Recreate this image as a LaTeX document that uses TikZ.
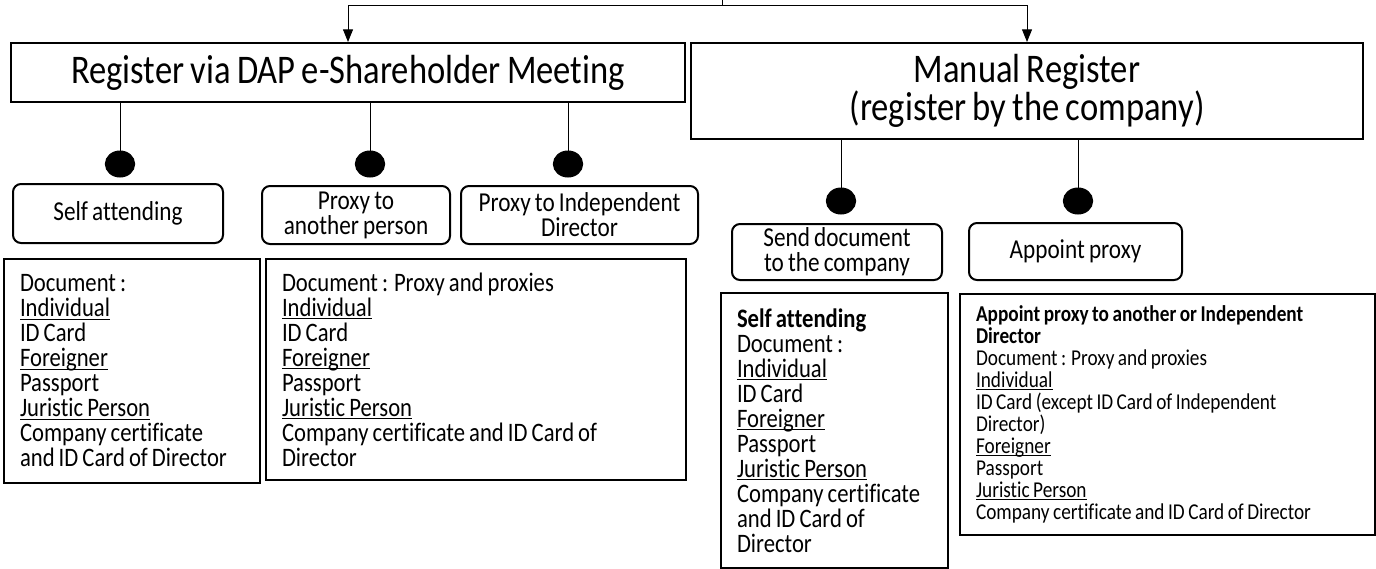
\documentclass[tikz,border=0pt]{standalone}
\usepackage{fontspec}
\setmainfont{Carlito}[FakeStretch=0.85,WordSpace=0.8,Ligatures={NoCommon}]
\usetikzlibrary{positioning,calc,shapes.geometric,arrows.meta}
\newcommand\boxfont[2]{\fontsize{#1}{#2}\selectfont\lineskiplimit=-20pt\relax}
\newcommand\ulword[1]{\underline{\smash{#1}}}

\begin{document}
\begin{tikzpicture}[
x=0.75pt,y=-0.75pt,
line width=0.75pt,
headbox/.style={draw,line width=1.5pt,align=center,inner sep=2pt,font=\boxfont{30.5}{28.5}},
optbox/.style={draw,line width=1.5pt,rounded corners=6pt,align=center,inner ysep=2pt,font=\boxfont{20.5}{18.75}},
docbox/.style={draw,line width=1.5pt,anchor=north west,align=flush left,inner xsep=12pt,inner ysep=0pt,font=\boxfont{20}{18.75}},
dot/.style={draw,fill,ellipse,minimum width=22pt,minimum height=19.5pt,inner sep=0pt},
tip/.style={-{Triangle[length=9.5pt,width=7.5pt]}},
]

\useasboundingbox (0,0) rectangle (1376,568);

\node[headbox,minimum width=505.5pt,minimum height=44.25pt] (reg) at (348,72.5) {Register via DAP e-Shareholder Meeting};
\node[headbox,minimum width=504pt,minimum height=72pt] (man) at (1027,91) {Manual Register\\(register by the company)};

\coordinate (top) at (722,0);
\coordinate (split) at (722,5);
\draw (top) -- (split);
\draw[tip] (split) -| (reg.north);
\draw[tip] (split) -| (man.north);

\node[dot] (d1) at (120,164) {};
\node[dot] (d2) at (370,164) {};
\node[dot] (d3) at (568,164) {};
\node[dot] (d4) at (841,201) {};
\node[dot] (d5) at (1078,201) {};
\foreach \d in {d1,d2,d3} \draw (\d.north |- reg.south) -- (\d.north);
\foreach \d in {d4,d5} \draw (\d.north |- man.south) -- (\d.north);

\node[optbox,minimum width=157.5pt,minimum height=44.25pt] (self) at (118,213.5) {Self attending};
\node[optbox,minimum width=141pt,minimum height=43.5pt] (pxa) at (356,215) {Proxy to\\another person};
\node[optbox,minimum width=177.75pt,minimum height=43.5pt] (pxi) at (579.5,215) {Proxy to Independent\\Director};
\node[optbox,minimum width=157.5pt,minimum height=42pt] (send) at (837,252) {Send document\\to the company};
\node[optbox,minimum width=159.75pt,minimum height=42.75pt] (appoint) at (1075.5,251.5) {Appoint proxy};

\node[docbox,text width=168pt,minimum height=168pt] (doc1) at (3,258)
{Document :\\\ulword{Individual}\\ID Card\\\ulword{Foreigner}\\Passport\\\ulword{Juristic Person}\\Company certificate\\and ID Card of Director};
\node[docbox,text width=291pt,minimum height=165.75pt] (doc2) at (265,258)
{Document : Proxy and proxies\\\ulword{Individual}\\ID Card\\\ulword{Foreigner}\\Passport\\\ulword{Juristic Person}\\Company certificate and ID Card of\\Director};
\node[docbox,text width=146.25pt,minimum height=206.25pt] (doc3) at (720,292)
{\textbf{Self attending}\\Document :\\\ulword{Individual}\\ID Card\\\ulword{Foreigner}\\Passport\\\ulword{Juristic Person}\\Company certificate\\and ID Card of\\Director};
\node[docbox,text width=287.25pt,minimum height=180.75pt,font=\boxfont{17}{16.5}] (doc4) at (959,293)
{\textbf{Appoint proxy to another or Independent}\\\textbf{Director}\\Document : Proxy and proxies\\\ulword{Individual}\\ID Card (except ID Card of Independent\\Director)\\\ulword{Foreigner}\\Passport\\\ulword{Juristic Person}\\Company certificate and ID Card of Director};

\end{tikzpicture}
\end{document}
